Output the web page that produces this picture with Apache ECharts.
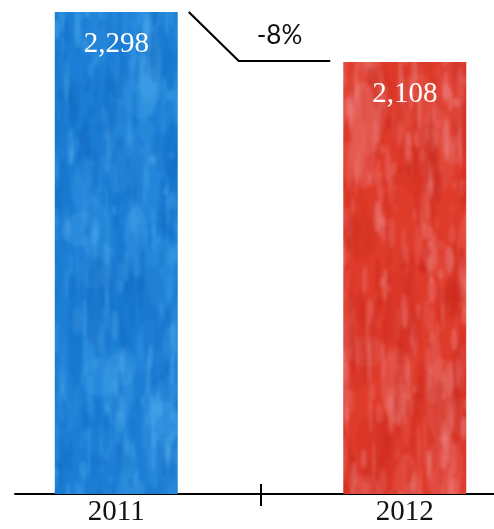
<!DOCTYPE html>
<html>
<head>
<meta charset="utf-8">
<script src="https://cdn.jsdelivr.net/npm/echarts@6/dist/echarts.min.js"></script>
<style>
  html, body { margin: 0; padding: 0; background: #ffffff; }
  #chart { width: 494px; height: 529px; }
</style>
</head>
<body>
<div id="chart"></div>
<script>
// Yearly totals
const years = ['2011', '2012'];
const totals = [2298, 2108];
const changeText = '-8%';

const SERIF = '"Liberation Serif", "DejaVu Serif", serif';
const SANS = 'Lato, "Open Sans", sans-serif';
const BAR_W = 123;

// Streaky watercolour-like fill for the bars
function streakTexture(base, light, dark, seed) {
  const w = 494, h = 529;
  const raw = document.createElement('canvas');
  raw.width = w; raw.height = h;
  const r = raw.getContext('2d');
  r.fillStyle = base;
  r.fillRect(0, 0, w, h);
  let s = seed >>> 0;
  const rnd = () => { s = (s * 1664525 + 1013904223) >>> 0; return s / 4294967296; };
  // broad soft patches
  for (let i = 0; i < 220; i++) {
    const x = rnd() * w, y = rnd() * h;
    r.globalAlpha = 0.08 + rnd() * 0.15;
    r.fillStyle = rnd() < 0.5 ? light : dark;
    r.beginPath();
    r.ellipse(x, y, 6 + rnd() * 14, 14 + rnd() * 40, 0, 0, Math.PI * 2);
    r.fill();
  }
  // fine vertical streaks
  for (let i = 0; i < 1800; i++) {
    const x = rnd() * w, y = rnd() * h;
    r.globalAlpha = 0.08 + rnd() * 0.25;
    r.fillStyle = rnd() < 0.55 ? light : dark;
    r.beginPath();
    r.ellipse(x, y, 1 + rnd() * 3, 4 + rnd() * 18, 0, 0, Math.PI * 2);
    r.fill();
  }
  const out = document.createElement('canvas');
  out.width = w; out.height = h;
  const g = out.getContext('2d');
  g.fillStyle = base;
  g.fillRect(0, 0, w, h);
  g.filter = 'blur(1.8px)';
  g.drawImage(raw, 0, 0);
  return out;
}

const fills = [
  { image: streakTexture('#1c7fd6', '#5ab6f2', '#0f62bd', 11), repeat: 'repeat' },
  { image: streakTexture('#df3b2b', '#f4a0a4', '#c42418', 29), repeat: 'repeat' }
];

const chart = echarts.init(document.getElementById('chart'), null, { renderer: 'canvas' });

chart.setOption({
  animation: false,
  backgroundColor: '#ffffff',
  grid: [
    { left: -28, width: 577, top: 12, bottom: 35, outerBoundsMode: 'none', containLabel: false },
    { left: 15, right: 0, top: 12, bottom: 35, outerBoundsMode: 'none', containLabel: false }
  ],
  xAxis: [
    {
      type: 'category', gridIndex: 0, data: years,
      axisLine: { show: false },
      axisTick: { show: true, inside: false, length: 12, lineStyle: { color: '#000', width: 2 } },
      axisLabel: { color: '#111', fontSize: 29, fontFamily: SERIF, margin: 4 }
    },
    {
      type: 'category', gridIndex: 0, data: years, position: 'bottom',
      axisLine: { show: false },
      axisTick: { show: true, inside: true, length: 10, lineStyle: { color: '#000', width: 2 } },
      axisLabel: { show: false }
    },
    {
      type: 'value', gridIndex: 1, min: 0, max: 1,
      axisLine: { show: true, lineStyle: { color: '#000', width: 2 } },
      axisTick: { show: false }, axisLabel: { show: false }, splitLine: { show: false }
    }
  ],
  yAxis: [
    { type: 'value', gridIndex: 0, min: 466, max: 2298, show: false, splitLine: { show: false } },
    { type: 'value', gridIndex: 1, show: false, splitLine: { show: false } }
  ],
  series: [{
    type: 'bar',
    xAxisIndex: 0, yAxisIndex: 0,
    barWidth: BAR_W,
    data: totals.map((v, i) => ({ value: v, itemStyle: { color: fills[i] } })),
    label: {
      show: true,
      position: 'insideTop',
      distance: 18,
      color: '#ffffff',
      fontSize: 29,
      fontFamily: SERIF,
      formatter: p => p.value.toLocaleString('en-US')
    }
  }]
});

// Change connector between the two bar tops
const a = chart.convertToPixel({ seriesIndex: 0 }, [0, totals[0]]);
const b = chart.convertToPixel({ seriesIndex: 0 }, [1, totals[1]]);
const x0 = a[0] + BAR_W / 2 + 11;
const drop = b[1] - a[1];
const x1 = x0 + drop;
const x2 = b[0] - BAR_W / 2 - 13;

chart.setOption({
  graphic: [
    {
      type: 'polyline',
      shape: { points: [[x0, a[1]], [x1, b[1] - 1], [x2, b[1] - 1]] },
      style: { stroke: '#000', lineWidth: 2.2, fill: null }
    },
    {
      type: 'text',
      x: (x1 + x2) / 2 - 5, y: (a[1] + b[1]) / 2 - 1,
      style: {
        text: changeText, fill: '#111', fontSize: 26, fontFamily: SANS,
        align: 'center', verticalAlign: 'middle'
      }
    }
  ]
});
</script>
</body>
</html>
